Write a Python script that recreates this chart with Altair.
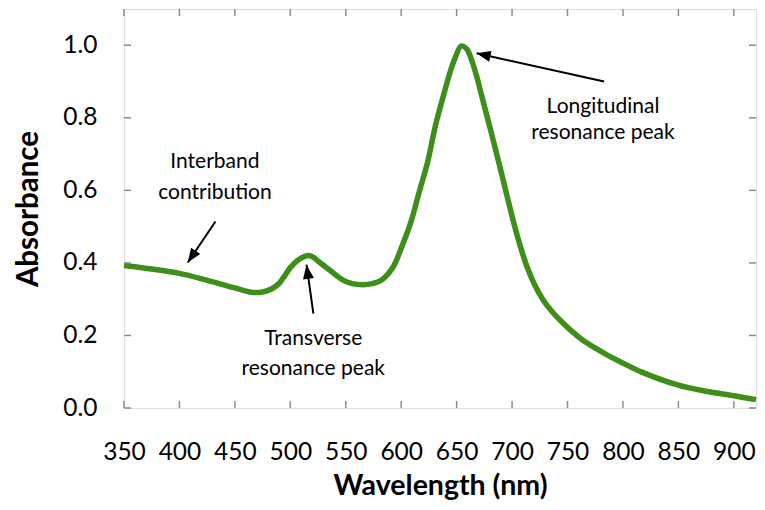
import math
import altair as alt
import pandas as pd

# ---- data ----
wavelength = [350, 375, 400, 425, 450, 465, 475, 483, 490, 495, 500, 508, 515, 520, 525,
              536, 548, 556, 565, 574, 582, 592, 601, 609, 616, 624, 631, 638, 644,
              649, 654, 659, 664, 668, 673, 681, 689, 696, 702, 708, 714, 720, 728,
              736, 745, 753, 763, 774, 786, 798, 817, 850, 875, 900, 920]
absorbance = [0.393, 0.383, 0.371, 0.352, 0.331, 0.319, 0.320, 0.328, 0.344, 0.365,
              0.387, 0.410, 0.420, 0.417, 0.405, 0.379, 0.352, 0.343, 0.340, 0.343,
              0.352, 0.385, 0.448, 0.515, 0.593, 0.680, 0.780, 0.860, 0.925, 0.968,
              0.998, 0.990, 0.955, 0.915, 0.856, 0.762, 0.665, 0.578, 0.505, 0.440,
              0.385, 0.342, 0.298, 0.266, 0.237, 0.214, 0.189, 0.167, 0.146, 0.127,
              0.099, 0.063, 0.046, 0.034, 0.023]

x_ticks = [350, 400, 450, 500, 550, 600, 650, 700, 750, 800, 850, 900]
y_ticks = [0.0, 0.2, 0.4, 0.6, 0.8, 1.0]
x_domain = [350, 920]
y_domain = [0, 1.1]

# annotation texts (one entry per line) and their anchor positions (data units)
label_lines = ["Longitudinal", "resonance peak", "Interband", "contribution",
               "Transverse", "resonance peak"]
label_x = [782, 782, 432, 432, 520.7, 520.7]
label_y = [0.813, 0.742, 0.663, 0.576, 0.174, 0.090]

# arrows: tail -> tip (data units)
arrow_x_tail = [783, 432.5, 520.8]
arrow_y_tail = [0.900, 0.514, 0.260]
arrow_x_tip = [668, 407.5, 514.6]
arrow_y_tip = [0.978, 0.401, 0.395]

# ---- layout / style ----
W, H = 632, 399
GREEN = "#3e8e1a"
GREY = "#8c8c8c"
FONT = "Lato"
TICK = 7

df = pd.DataFrame({"wavelength": wavelength, "absorbance": absorbance})
labels_df = pd.DataFrame({"text": label_lines, "x": label_x, "y": label_y})
xt_df = pd.DataFrame({"v": x_ticks})
yt_df = pd.DataFrame({"v": y_ticks})

px_per_x = W / (x_domain[1] - x_domain[0])
px_per_y = H / (y_domain[1] - y_domain[0])
angles = []
for xt, yt, xh, yh in zip(arrow_x_tail, arrow_y_tail, arrow_x_tip, arrow_y_tip):
    dx = (xh - xt) * px_per_x
    dy = -(yh - yt) * px_per_y
    angles.append(math.degrees(math.atan2(dx, -dy)) % 360)
arrows_df = pd.DataFrame({"x": arrow_x_tail, "y": arrow_y_tail,
                          "x2": arrow_x_tip, "y2": arrow_y_tip, "angle": angles})

xs = alt.Scale(domain=x_domain, nice=False, zero=False)
ys = alt.Scale(domain=y_domain, nice=False, zero=False)

main_x_axis = alt.Axis(values=x_ticks, format="d", title="Wavelength (nm)", grid=False,
                       domain=False, ticks=False, tickSize=0, labelPadding=32,
                       labelOverlap=False, labelFlush=False, labelBound=False,
                       labelFont=FONT, labelFontSize=24.5, labelColor="black",
                       titleFont=FONT, titleFontSize=28.5, titleFontWeight="bold",
                       titleColor="black", titleBaseline="alphabetic", titleY=86)
main_y_axis = alt.Axis(values=y_ticks, format=".1f", title="Absorbance", grid=False,
                       domain=False, ticks=False, tickSize=0, labelPadding=27,
                       labelOverlap=False, labelFlush=False, labelBound=False,
                       labelFont=FONT, labelFontSize=24.5, labelColor="black",
                       titleFont=FONT, titleFontSize=29.5, titleFontWeight="bold",
                       titleColor="black", titleBaseline="middle", titleX=-96)

line = alt.Chart(df).mark_line(color=GREEN, strokeWidth=5.5, interpolate="catmull-rom").encode(
    x=alt.X("wavelength:Q", scale=xs, axis=main_x_axis),
    y=alt.Y("absorbance:Q", scale=ys, axis=main_y_axis),
)

# inward ticks on all four sides of the frame
tick_style = dict(color=GREY, strokeWidth=1.5)
ticks_bottom = alt.Chart(xt_df).mark_rule(**tick_style).encode(
    x=alt.X("v:Q", scale=xs), y=alt.value(H), y2=alt.value(H - TICK))
ticks_top = alt.Chart(xt_df).mark_rule(**tick_style).encode(
    x=alt.X("v:Q", scale=xs), y=alt.value(0), y2=alt.value(TICK))
ticks_left = alt.Chart(yt_df).mark_rule(**tick_style).encode(
    y=alt.Y("v:Q", scale=ys), x=alt.value(0), x2=alt.value(TICK))
ticks_right = alt.Chart(yt_df).mark_rule(**tick_style).encode(
    y=alt.Y("v:Q", scale=ys), x=alt.value(W), x2=alt.value(W - TICK))

arrow_lines = alt.Chart(arrows_df).mark_rule(color="black", strokeWidth=2).encode(
    x=alt.X("x:Q", scale=xs),
    y=alt.Y("y:Q", scale=ys),
    x2="x2:Q",
    y2="y2:Q",
)
arrow_heads = alt.Chart(arrows_df).mark_point(
    shape="M0,0 L-0.45,1.15 L0.45,1.15 Z", filled=True, color="black", size=600, opacity=1
).encode(
    x=alt.X("x2:Q", scale=xs),
    y=alt.Y("y2:Q", scale=ys),
    angle=alt.Angle("angle:Q", scale=None),
)

texts = alt.Chart(labels_df).mark_text(
    font=FONT, fontSize=21, color="black", align="center", baseline="alphabetic"
).encode(
    x=alt.X("x:Q", scale=xs),
    y=alt.Y("y:Q", scale=ys),
    text="text:N",
)

chart = alt.layer(line, ticks_bottom, ticks_top, ticks_left, ticks_right,
                  arrow_lines, arrow_heads, texts).properties(
    width=W, height=H,
    autosize=alt.AutoSizeParams(type="none"),
    padding={"left": 116, "top": 1, "right": 1, "bottom": 94},
).configure_view(stroke=GREY, strokeWidth=2).configure(background="white")

chart.save("out.html", embed_options={"renderer": "svg", "actions": False})
